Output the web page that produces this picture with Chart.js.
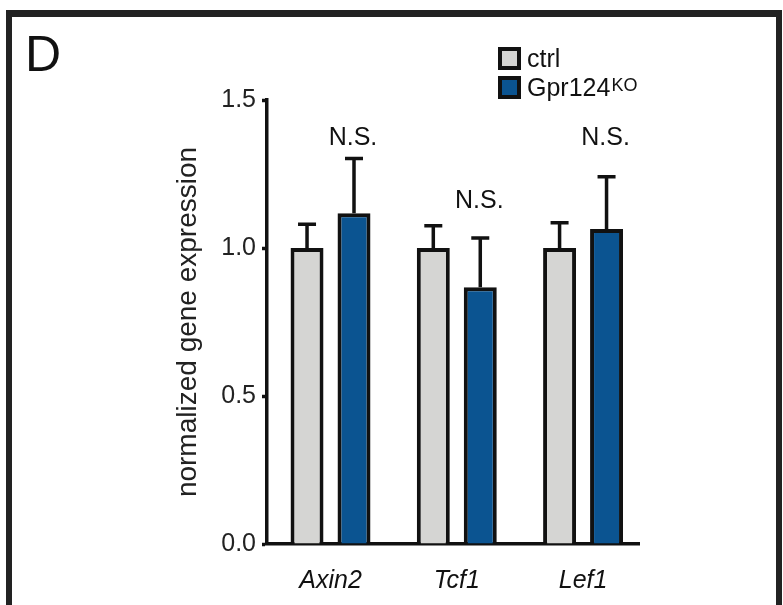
<!DOCTYPE html>
<html>
<head>
<meta charset="utf-8">
<script src="https://cdn.jsdelivr.net/npm/chart.js"></script>
<style>
  html, body { margin: 0; padding: 0; background: #fff; }
  #wrap { width: 783px; height: 605px; }
</style>
</head>
<body>
<div id="wrap"><canvas id="chart" width="783" height="605"></canvas></div>
<script>
// values
const genes = ['Axin2', 'Tcf1', 'Lef1'];
const ctrlMean = [1.0, 1.0, 1.0];
const ctrlErr = [0.08, 0.075, 0.085];
const koMean = [1.117, 0.867, 1.064];
const koErr = [0.185, 0.167, 0.177];
const nsLevel = [1.372, 1.16, 1.37];
const yTicks = [0.0, 0.5, 1.0, 1.5];

const FONT = '"Liberation Sans", Arial, Helvetica, sans-serif';
const INK = '#111';

// frame, panel letter and legend
const decor = {
  id: 'decor',
  beforeDraw(chart) {
    const ctx = chart.ctx;
    ctx.save();
    ctx.fillStyle = '#fff';
    ctx.fillRect(0, 0, chart.width, chart.height);
    ctx.fillStyle = '#222';
    ctx.fillRect(6, 10, 776, 7);
    ctx.fillRect(6, 10, 6, 595);
    ctx.fillRect(776, 10, 6, 595);

    ctx.fillStyle = INK;
    ctx.font = '50px ' + FONT;
    ctx.textBaseline = 'alphabetic';
    ctx.fillText('D', 25, 71);

    const items = [
      { label: 'ctrl', sup: '', color: '#d5d5d3', y: 49 },
      { label: 'Gpr124', sup: 'KO', color: '#0b5491', y: 78 }
    ];
    items.forEach(it => {
      ctx.fillStyle = it.color;
      ctx.fillRect(500, it.y, 19, 19);
      ctx.strokeStyle = INK;
      ctx.lineWidth = 4;
      ctx.strokeRect(500, it.y, 19, 19);
      ctx.fillStyle = INK;
      ctx.font = '25px ' + FONT;
      ctx.fillText(it.label, 527, it.y + 18);
      if (it.sup) {
        const w = ctx.measureText(it.label).width;
        ctx.font = '18px ' + FONT;
        ctx.fillText(it.sup, 527 + w + 1, it.y + 13);
      }
    });
    ctx.restore();
  }
};

// error bars and N.S. marks
const errorBars = {
  id: 'errorBars',
  afterDatasetsDraw(chart) {
    const ctx = chart.ctx;
    const y = chart.scales.y;
    const means = [ctrlMean, koMean];
    const errs = [ctrlErr, koErr];
    ctx.save();
    ctx.strokeStyle = INK;
    ctx.lineWidth = 3.5;
    chart.data.datasets.forEach((ds, di) => {
      chart.getDatasetMeta(di).data.forEach((bar, i) => {
        const top = y.getPixelForValue(means[di][i] + errs[di][i]);
        ctx.beginPath();
        ctx.moveTo(bar.x, bar.y);
        ctx.lineTo(bar.x, top);
        ctx.moveTo(bar.x - 9, top);
        ctx.lineTo(bar.x + 9, top);
        ctx.stroke();
      });
    });
    ctx.fillStyle = INK;
    ctx.font = '25px ' + FONT;
    ctx.textAlign = 'center';
    ctx.textBaseline = 'middle';
    chart.getDatasetMeta(1).data.forEach((bar, i) => {
      ctx.fillText('N.S.', bar.x - 1, y.getPixelForValue(nsLevel[i]));
    });
    ctx.restore();
  }
};

new Chart(document.getElementById('chart'), {
  type: 'bar',
  data: {
    datasets: [
      {
        label: 'ctrl',
        data: ctrlMean.map((v, i) => ({ x: i, y: v })),
        backgroundColor: '#d5d5d3',
        borderColor: INK,
        borderWidth: 4
      },
      {
        label: 'Gpr124KO',
        data: koMean.map((v, i) => ({ x: i, y: v })),
        backgroundColor: '#0b5491',
        borderColor: INK,
        borderWidth: 4
      }
    ]
  },
  options: {
    responsive: false,
    animation: false,
    events: [],
    categoryPercentage: 0.744,
    barPercentage: 0.702,
    layout: { padding: { left: 171, right: 144, top: 100, bottom: 0 } },
    plugins: {
      legend: { display: false },
      tooltip: { enabled: false }
    },
    scales: {
      x: {
        type: 'linear',
        min: -0.503,
        max: 2.443,
        offset: false,
        afterBuildTicks(scale) { scale.ticks = genes.map((g, i) => ({ value: i })); },
        grid: { display: false, drawTicks: false },
        border: { display: true, color: INK, width: 3.5 },
        ticks: {
          color: INK,
          padding: 22,
          font: { family: FONT, size: 25, style: 'italic' },
          callback: v => genes[v]
        },
        afterFit(scale) { scale.height = 61; }
      },
      y: {
        min: 0,
        max: 1.5,
        afterBuildTicks(scale) { scale.ticks = yTicks.map(v => ({ value: v })); },
        grid: {
          drawOnChartArea: false,
          tickLength: 5,
          tickWidth: 3.5,
          tickColor: INK
        },
        border: { display: true, color: INK, width: 3.5 },
        ticks: {
          color: '#222',
          padding: 6,
          font: { family: FONT, size: 25 },
          callback: v => v.toFixed(1)
        },
        title: {
          display: true,
          text: 'normalized gene expression',
          color: '#222',
          padding: 0,
          font: { family: FONT, size: 28 }
        },
        afterFit(scale) { scale.width = 96; }
      }
    }
  },
  plugins: [decor, errorBars]
});
</script>
</body>
</html>
